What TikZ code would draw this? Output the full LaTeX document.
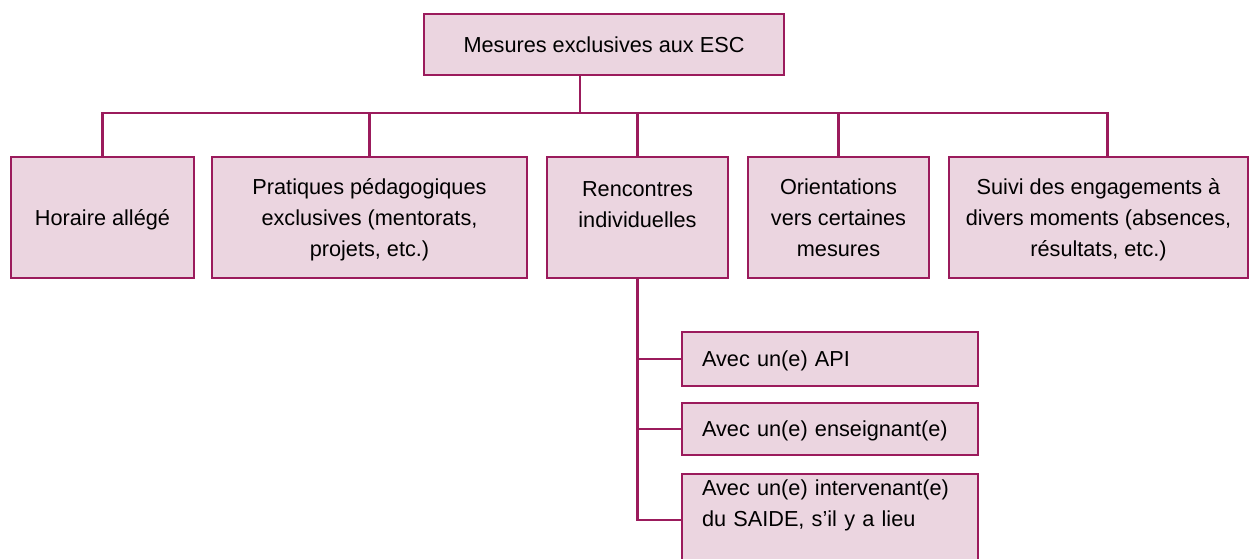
\documentclass[tikz,border=0pt]{standalone}
\usepackage{fontspec}
\setmainfont{Liberation Sans}
\usepackage{tikz}
\definecolor{plum}{HTML}{9B1B5C}
\definecolor{pinkfill}{HTML}{EBD5E0}

\begin{document}
\begin{tikzpicture}[x=0.5pt,y=-0.5pt]
    \tikzstyle{box}=[rectangle,draw=plum,fill=pinkfill,line width=1.1pt,inner sep=0pt,align=center,font=\fontsize{10.85pt}{15.5pt}\selectfont]
    \tikzstyle{branch}=[box,minimum height=60.5pt,text depth=-5pt]
    \tikzstyle{leaf}=[box,minimum width=148pt,text width=128pt,inner xsep=10pt,inner ysep=2.6pt,align=left,text depth=-5pt]
    \tikzstyle{link}=[draw=plum,line width=1.1pt]
    \useasboundingbox (0,0) rectangle (1252,558);
    \node (top)[box,minimum width=180pt,minimum height=30.5pt] at (604,44.5) {Mesures exclusives aux ESC};
    \node (horaire)[branch,minimum width=91.5pt] at (102.5,217.5) {Horaire allégé};
    \node (pratiques)[branch,minimum width=157.5pt] at (369.5,217.5) {Pratiques pédagogiques\\exclusives (mentorats,\\projets, etc.)};
    \node (rencontres)[branch,minimum width=90.5pt,text depth=12.5pt] at (637.5,217.5) {Rencontres\\individuelles};
    \node (orientations)[branch,minimum width=90.5pt] at (838.5,217.5) {Orientations\\vers certaines\\mesures};
    \node (suivi)[branch,minimum width=149.5pt] at (1098.5,217.5) {Suivi des engagements à\\divers moments (absences,\\résultats, etc.)};
    \node (api)[leaf,minimum height=27pt] at (830,359) {Avec un(e) API};
    \node (ens)[leaf,minimum height=26pt] at (830,429) {Avec un(e) enseignant(e)};
    \node (interv)[leaf,anchor=north,text depth=33pt] at (830,473) {Avec un(e) intervenant(e)\\du SAIDE, s’il y a lieu};
    \coordinate (hub) at (580,113);
    \draw[link] (hub |- top.south) -- (hub);
    \draw[link] (horaire.north) |- ([xshift=4.5pt]suivi.north |- hub) -- ([xshift=4.5pt]suivi.north);
    \foreach \n in {pratiques,rencontres,orientations}
        \draw[link] (\n.north) -- (\n.north |- hub);
    \draw[link] (rencontres.south) |- (interv.west);
    \foreach \n in {api,ens}
        \draw[link] (rencontres.south |- \n.west) -- (\n.west);
\end{tikzpicture}
\end{document}
